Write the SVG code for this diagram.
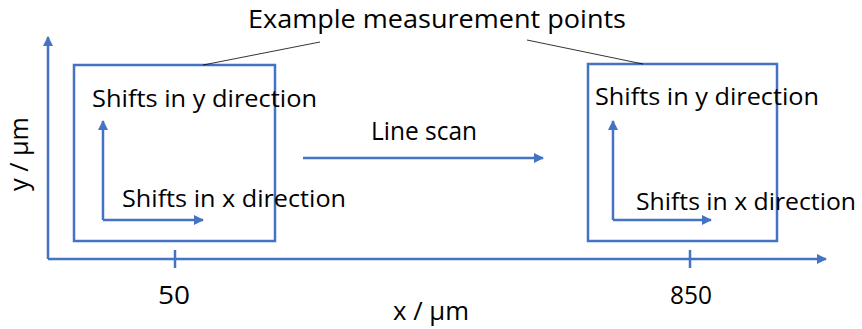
<svg xmlns="http://www.w3.org/2000/svg" width="862" height="329" viewBox="0 0 862 329">
<style>
.ax{stroke:#4472C4;stroke-width:2.5;fill:none}
.bx{stroke:#4472C4;stroke-width:2.5;fill:none}
.cl{stroke:#000;stroke-width:0.8;fill:none}
text{font-family:"Open Sans","Liberation Sans",sans-serif;font-size:26px;fill:#000}
.sh{font-size:23.5px}
</style>
<defs>
<marker id="ah" viewBox="0 0 10 10" refX="9" refY="5" markerWidth="4" markerHeight="4" orient="auto" markerUnits="strokeWidth">
<path d="M0,0 L10,5 L0,10 z" fill="#4472C4"/>
</marker>
</defs>
<rect width="862" height="329" fill="#fff"/>
<g id="axes">
<line class="ax" x1="48" y1="259" x2="48" y2="37" marker-end="url(#ah)"/>
<line class="ax" x1="48" y1="259" x2="826" y2="259" marker-end="url(#ah)"/>
<line class="ax" x1="175" y1="250" x2="175" y2="268"/>
<line class="ax" x1="690" y1="250" x2="690" y2="268"/>
<text x="174" y="304" text-anchor="middle" textLength="32" lengthAdjust="spacingAndGlyphs">50</text>
<text x="691" y="304" text-anchor="middle" textLength="42" lengthAdjust="spacingAndGlyphs">850</text>
<text x="393" y="320" textLength="76" lengthAdjust="spacingAndGlyphs">x / µm</text>
<text transform="translate(28,154) rotate(-90)" text-anchor="middle" textLength="74" lengthAdjust="spacingAndGlyphs">y / µm</text>
</g>
<g id="box-left">
<rect class="bx" x="74" y="65" width="201" height="176"/>
<text class="sh" x="92" y="107" textLength="225" lengthAdjust="spacingAndGlyphs">Shifts in y direction</text>
<text class="sh" x="122" y="207" textLength="224" lengthAdjust="spacingAndGlyphs">Shifts in x direction</text>
</g>
<g id="box-right">
<rect class="bx" x="588" y="64" width="189" height="177"/>
<text class="sh" x="595" y="105" textLength="224" lengthAdjust="spacingAndGlyphs">Shifts in y direction</text>
<text class="sh" x="636" y="210" textLength="220" lengthAdjust="spacingAndGlyphs">Shifts in x direction</text>
</g>
<g id="label">
<text x="248" y="28" textLength="378" lengthAdjust="spacingAndGlyphs">Example measurement points</text>
</g>
<g id="linescan-label">
<text x="371" y="140" textLength="106" lengthAdjust="spacingAndGlyphs">Line scan</text>
</g>
<g id="connectors">
<line class="cl" x1="320" y1="42" x2="203" y2="65"/>
<line class="cl" x1="527" y1="40" x2="643" y2="64"/>
<line class="ax" x1="303" y1="158" x2="543" y2="158" marker-end="url(#ah)"/>
<line class="ax" x1="103" y1="220" x2="103" y2="121" marker-end="url(#ah)"/>
<line class="ax" x1="103" y1="220" x2="203" y2="220" marker-end="url(#ah)"/>
<line class="ax" x1="613" y1="220" x2="613" y2="121" marker-end="url(#ah)"/>
<line class="ax" x1="613" y1="220" x2="711" y2="220" marker-end="url(#ah)"/>
</g>
</svg>
